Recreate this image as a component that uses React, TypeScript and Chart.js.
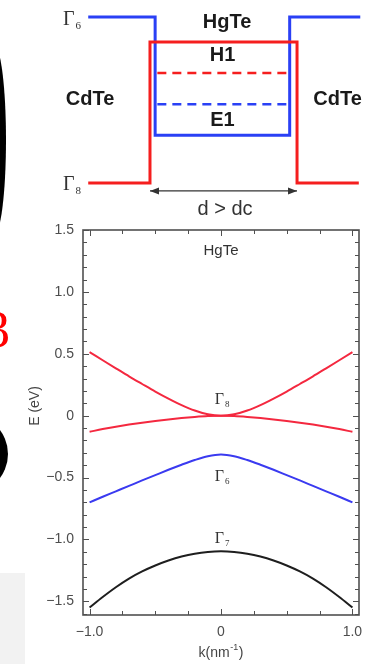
import React, { useEffect, useRef } from "react";
import { Chart, registerables } from "chart.js";

Chart.register(...registerables);
Chart.defaults.font.family = "'Liberation Sans', Arial, sans-serif";

// ---------------- Band structure (lower panel) ----------------
const kValues = [-1.0, -0.9, -0.8, -0.7, -0.6, -0.5, -0.4, -0.3, -0.2, -0.1, 0, 0.1, 0.2, 0.3, 0.4, 0.5, 0.6, 0.7, 0.8, 0.9, 1.0];
const gamma8Upper = [0.513, 0.448, 0.383, 0.318, 0.256, 0.195, 0.138, 0.086, 0.042, 0.011, 0, 0.011, 0.042, 0.086, 0.138, 0.195, 0.256, 0.318, 0.383, 0.448, 0.513];
const gamma8Lower = [-0.13, -0.108, -0.089, -0.072, -0.057, -0.043, -0.03, -0.019, -0.01, -0.003, 0, -0.003, -0.01, -0.019, -0.03, -0.043, -0.057, -0.072, -0.089, -0.108, -0.13];
const gamma6Band = [-0.7, -0.655, -0.611, -0.567, -0.523, -0.48, -0.437, -0.396, -0.358, -0.327, -0.313, -0.327, -0.358, -0.396, -0.437, -0.48, -0.523, -0.567, -0.611, -0.655, -0.7];
const gamma7Band = [-1.55, -1.465, -1.386, -1.316, -1.258, -1.21, -1.17, -1.138, -1.115, -1.101, -1.096, -1.101, -1.115, -1.138, -1.17, -1.21, -1.258, -1.316, -1.386, -1.465, -1.55];

const yTickValues = [1.5, 1.0, 0.5, 0, -0.5, -1.0, -1.5];
const yTickLabels = ["1.5", "1.0", "0.5", "0", "\u22120.5", "\u22121.0", "\u22121.5"];
const xTickValues = [-1, 0, 1];
const xTickLabels = ["\u22121.0", "0", "1.0"];
const xMinorTicks = [-1, -0.75, -0.5, -0.25, 0, 0.25, 0.5, 0.75, 1];

// band labels (k, E)
const bandLabels = [
  { sub: "8", k: 0.0, e: 0.126 },
  { sub: "6", k: 0.0, e: -0.493 },
  { sub: "7", k: 0.0, e: -0.995 },
];
const materialLabel = { text: "HgTe", k: 0.0, e: 1.329 };

// ---------------- Quantum well schematic (upper panel) ----------------
const gamma6ProfileZ = [-4.2, 0.35, 0.35, 9.5, 9.5, 14.3];
const gamma6ProfileE = [1.6, 1.6, 0.46, 0.46, 1.6, 1.6];
const gamma8ProfileZ = [-4.2, 0, 0, 10, 10, 14.2];
const gamma8ProfileE = [0, 0, 1.36, 1.36, 0, 0];
const subbandZ = [0.5, 9.6];
const h1Level = [1.06, 1.06];
const e1Level = [0.76, 0.76];
const arrowZ = [0, 10];
const arrowE = [-0.077, -0.077];

const schematicLabels = [
  { text: "HgTe", z: 5.24, e: 1.547 },
  { text: "H1", z: 4.93, e: 1.229 },
  { text: "E1", z: 4.93, e: 0.607 },
  { text: "CdTe", z: -4.08, e: 0.805 },
  { text: "CdTe", z: 12.76, e: 0.805 },
];
const wellLabel = { text: "d > dc", z: 5.1, e: -0.26 };
const schematicGammas = [
  { sub: "6", z: -5.92, e: 1.571 },
  { sub: "8", z: -5.92, e: -0.02 },
];

const RED = "#f4283f";
const BLUE = "#3a3af0";
const BLACK = "#1e1e1e";
const SRED = "#f51e1e";
const SBLUE = "#2a40f5";

function drawGamma(ctx: CanvasRenderingContext2D, x: number, y: number, sub: string, size: number, subSize: number, align: "left" | "center") {
  ctx.save();
  ctx.fillStyle = "#333";
  ctx.textBaseline = "middle";
  ctx.textAlign = "left";
  ctx.font = `${size}px 'Liberation Serif', 'DejaVu Serif', serif`;
  const gw = ctx.measureText("\u0393").width;
  ctx.font = `${subSize}px 'Liberation Serif', 'DejaVu Serif', serif`;
  const sw = ctx.measureText(sub).width;
  const total = gw + 1 + sw;
  const x0 = align === "center" ? x - total / 2 : x;
  ctx.font = `${size}px 'Liberation Serif', 'DejaVu Serif', serif`;
  ctx.fillText("\u0393", x0, y);
  ctx.font = `${subSize}px 'Liberation Serif', 'DejaVu Serif', serif`;
  ctx.fillText(sub, x0 + gw + 1, y + size * 0.3);
  ctx.restore();
}

const bandDecor = {
  id: "bandDecor",
  afterDatasetsDraw(chart: any) {
    const { ctx, chartArea: a, scales } = chart;
    const x = scales.x;
    const y = scales.y;
    ctx.save();
    // frame
    ctx.strokeStyle = "#505050";
    ctx.lineWidth = 1.6;
    ctx.strokeRect(a.left, a.top, a.right - a.left, a.bottom - a.top);
    // minor / major ticks pointing inward
    ctx.lineWidth = 1;
    ctx.beginPath();
    for (const v of xMinorTicks) {
      const px = Math.round(x.getPixelForValue(v)) + 0.5;
      const len = v % 1 === 0 ? 6 : 4;
      ctx.moveTo(px, a.bottom);
      ctx.lineTo(px, a.bottom - len);
      ctx.moveTo(px, a.top);
      ctx.lineTo(px, a.top + len);
    }
    for (let i = -16; i <= 15; i++) {
      const v = i / 10;
      const py = Math.round(y.getPixelForValue(v)) + 0.5;
      const len = i % 5 === 0 ? 6 : 4;
      ctx.moveTo(a.left, py);
      ctx.lineTo(a.left + len, py);
      ctx.moveTo(a.right, py);
      ctx.lineTo(a.right - len, py);
    }
    ctx.stroke();

    // material label
    ctx.fillStyle = "#333";
    ctx.font = "15px 'Liberation Sans', Arial, sans-serif";
    ctx.textAlign = "center";
    ctx.textBaseline = "middle";
    ctx.fillText(materialLabel.text, x.getPixelForValue(materialLabel.k), y.getPixelForValue(materialLabel.e));

    for (const l of bandLabels) {
      drawGamma(ctx, x.getPixelForValue(l.k) + 1, y.getPixelForValue(l.e), l.sub, 16, 9, "center");
    }

    // axis titles
    ctx.fillStyle = "#444";
    ctx.font = "14px 'Liberation Sans', Arial, sans-serif";
    ctx.save();
    ctx.translate(35, a.top + 176);
    ctx.rotate(-Math.PI / 2);
    ctx.textAlign = "center";
    ctx.textBaseline = "middle";
    ctx.fillText("E (eV)", 0, 0);
    ctx.restore();

    const cx = (a.left + a.right) / 2;
    const ty = a.bottom + 38;
    ctx.textBaseline = "middle";
    ctx.textAlign = "left";
    ctx.font = "14px 'Liberation Sans', Arial, sans-serif";
    const w1 = ctx.measureText("k(nm").width;
    const w3 = ctx.measureText(")").width;
    ctx.font = "9px 'Liberation Sans', Arial, sans-serif";
    const w2 = ctx.measureText("-1").width;
    const x0 = cx - (w1 + w2 + w3 + 1) / 2;
    ctx.font = "14px 'Liberation Sans', Arial, sans-serif";
    ctx.fillText("k(nm", x0, ty);
    ctx.font = "9px 'Liberation Sans', Arial, sans-serif";
    ctx.fillText("-1", x0 + w1 + 0.5, ty - 5);
    ctx.font = "14px 'Liberation Sans', Arial, sans-serif";
    ctx.fillText(")", x0 + w1 + w2 + 1, ty);
    ctx.restore();
  },
};

const schematicDecor = {
  id: "schematicDecor",
  afterDatasetsDraw(chart: any) {
    const { ctx, scales } = chart;
    const x = scales.x;
    const y = scales.y;
    ctx.save();
    // arrow heads
    ctx.fillStyle = "#333";
    const ay = y.getPixelForValue(arrowE[0]);
    const xl = x.getPixelForValue(arrowZ[0]);
    const xr = x.getPixelForValue(arrowZ[1]);
    ctx.beginPath();
    ctx.moveTo(xl, ay);
    ctx.lineTo(xl + 9, ay - 3.5);
    ctx.lineTo(xl + 9, ay + 3.5);
    ctx.closePath();
    ctx.moveTo(xr, ay);
    ctx.lineTo(xr - 9, ay - 3.5);
    ctx.lineTo(xr - 9, ay + 3.5);
    ctx.closePath();
    ctx.fill();

    ctx.textAlign = "center";
    ctx.textBaseline = "middle";
    ctx.fillStyle = "#1a1a1a";
    ctx.font = "bold 20px 'Liberation Sans', Arial, sans-serif";
    for (const l of schematicLabels) {
      ctx.fillText(l.text, x.getPixelForValue(l.z), y.getPixelForValue(l.e));
    }
    ctx.fillStyle = "#333";
    ctx.font = "20px 'Liberation Sans', Arial, sans-serif";
    ctx.fillText(wellLabel.text, x.getPixelForValue(wellLabel.z), y.getPixelForValue(wellLabel.e));

    for (const g of schematicGammas) {
      drawGamma(ctx, x.getPixelForValue(g.z), y.getPixelForValue(g.e), g.sub, 20, 11, "left");
    }
    ctx.restore();
  },
};

function pts(xs: number[], ys: number[]) {
  return xs.map((v, i) => ({ x: v, y: ys[i] }));
}

export default function App() {
  const topRef = useRef<HTMLCanvasElement>(null);
  const botRef = useRef<HTMLCanvasElement>(null);

  useEffect(() => {
    const line = (data: any, color: string, width: number, dash: number[] = []) => ({
      data,
      borderColor: color,
      backgroundColor: color,
      borderWidth: width,
      borderDash: dash,
      pointRadius: 0,
      showLine: true,
      fill: false,
      tension: 0,
    });

    const top = new Chart(topRef.current as HTMLCanvasElement, {
      type: "scatter",
      data: {
        datasets: [
          line(pts(gamma8ProfileZ, gamma8ProfileE), SRED, 3),
          line(pts(gamma6ProfileZ, gamma6ProfileE), SBLUE, 3),
          line(pts(subbandZ, h1Level), SRED, 2.5, [9, 6]),
          line(pts(subbandZ, e1Level), SBLUE, 2.5, [9, 6]),
          line(pts(arrowZ, arrowE), "#333", 1.2),
        ] as any,
      },
      options: {
        responsive: false,
        animation: false,
        devicePixelRatio: 1,
        events: [],
        layout: { padding: 0 },
        plugins: { legend: { display: false }, tooltip: { enabled: false } },
        scales: {
          x: { type: "linear", display: false, min: -10.2, max: 15.37 },
          y: { type: "linear", display: false, min: -0.357, max: 1.764 },
        },
      },
      plugins: [schematicDecor],
    });

    const curve = (ys: number[], color: string) => ({
      data: pts(kValues, ys),
      borderColor: color,
      backgroundColor: color,
      borderWidth: 2,
      pointRadius: 0,
      showLine: true,
      fill: false,
      cubicInterpolationMode: "monotone",
    });

    const bot = new Chart(botRef.current as HTMLCanvasElement, {
      type: "scatter",
      data: {
        datasets: [
          curve(gamma8Upper, RED),
          curve(gamma8Lower, RED),
          curve(gamma6Band, BLUE),
          curve(gamma7Band, BLACK),
        ] as any,
      },
      options: {
        responsive: false,
        animation: false,
        devicePixelRatio: 1,
        events: [],
        layout: { padding: { top: 10, right: 17, left: 0, bottom: 0 } },
        plugins: { legend: { display: false }, tooltip: { enabled: false } },
        scales: {
          x: {
            type: "linear",
            min: -1.05,
            max: 1.05,
            afterBuildTicks: (s: any) => {
              s.ticks = xTickValues.map((v) => ({ value: v }));
            },
            afterFit: (s: any) => {
              s.height = 49;
              s.paddingLeft = 0;
              s.paddingRight = 0;
              s.paddingTop = 0;
              s.paddingBottom = 0;
            },
            grid: { display: false, drawTicks: false },
            border: { display: false },
            ticks: {
              padding: 9,
              color: "#4d4d4d",
              font: { size: 14 },
              maxRotation: 0,
              autoSkip: false,
              callback: (v: any) => xTickLabels[xTickValues.indexOf(Number(v))],
            },
          },
          y: {
            type: "linear",
            min: -1.61,
            max: 1.5,
            afterBuildTicks: (s: any) => {
              s.ticks = yTickValues.map((v) => ({ value: v }));
            },
            afterFit: (s: any) => {
              s.width = 83;
              s.paddingLeft = 0;
              s.paddingRight = 0;
              s.paddingTop = 0;
              s.paddingBottom = 0;
            },
            grid: { display: false, drawTicks: false },
            border: { display: false },
            ticks: {
              padding: 9,
              color: "#4d4d4d",
              font: { size: 14 },
              autoSkip: false,
              callback: (v: any) => yTickLabels[yTickValues.indexOf(Number(v))],
            },
          },
        },
      },
      plugins: [bandDecor],
    });

    return () => {
      top.destroy();
      bot.destroy();
    };
  }, []);

  return (
    <div style={{ position: "fixed", left: 0, top: 0, width: 376, height: 664, overflow: "hidden", background: "#fff" }}>
      <div style={{ position: "absolute", left: 0, top: 573, width: 25, height: 91, background: "#f2f2f2" }} />
      <div style={{ position: "absolute", left: 6 - 24, top: 45, width: 24, height: 190, borderRadius: "50%", background: "#000" }} />
      <div style={{ position: "absolute", left: 8 - 80, top: 414, width: 80, height: 80, borderRadius: "50%", background: "#000" }} />
      <div
        style={{
          position: "absolute",
          left: -17,
          top: 304,
          width: 27,
          textAlign: "right",
          fontFamily: "'Liberation Serif', serif",
          fontSize: 52,
          lineHeight: "52px",
          color: "#ff0000",
        }}
      >
        3
      </div>
      <canvas ref={topRef} width={376} height={220} style={{ position: "absolute", left: 0, top: 0 }} />
      <canvas ref={botRef} width={376} height={444} style={{ position: "absolute", left: 0, top: 220 }} />
    </div>
  );
}
